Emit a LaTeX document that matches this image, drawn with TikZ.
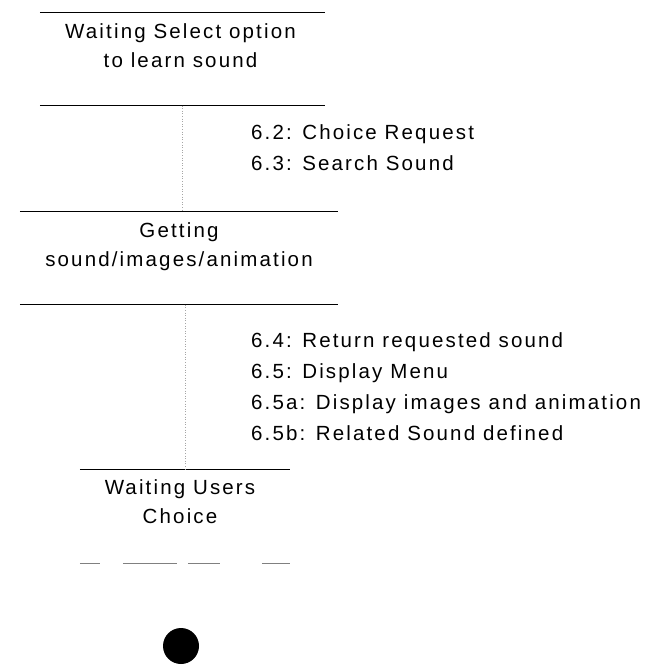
\documentclass[tikz,border=0pt]{standalone}
\usepackage{fontspec}
\newfontfamily\diagfont{Liberation Sans}[LetterSpace=10.5]
\usetikzlibrary{positioning}

\begin{document}
\begin{tikzpicture}[
  x=1pt, y=-1pt, font=\diagfont\fontsize{20.5}{29}\selectfont, node distance=12pt,
  bar/.style={line width=1.1pt},
  dashbar/.style={line width=0.6pt, gray, dash pattern=on 20pt off 23pt on 54pt off 11pt on 32pt off 42pt on 31pt off 10pt},
  frame/.style={minimum width=#1, minimum height=93pt, inner sep=0pt,
    append after command={(\tikzlastnode.north west) edge[bar] (\tikzlastnode.north east)}},
  solidbot/.style={append after command={(\tikzlastnode.south west) edge[bar] (\tikzlastnode.south east)}},
  dashbot/.style={append after command={(\tikzlastnode.south west) edge[dashbar] (\tikzlastnode.south east)}},
  txt/.style={align=center, inner sep=0pt},
  msg/.style={anchor=north west, align=left, inner sep=0pt, font=\diagfont\fontsize{20.5}{31}\selectfont},
  conn/.style={dotted, gray!70, line width=0.6pt},
  final/.style={circle, fill=black, minimum size=36pt, inner sep=0pt}]
  \useasboundingbox (0,0) rectangle (654,668);
  % states
  \node[frame=285pt, solidbot] (selBox) at (182.5,59) {};
  \node[txt, below=11pt of selBox.north, xshift=-2pt] (select) {Waiting Select option\\to learn sound};
  \node[frame=318pt, solidbot] (getBox) at (179,258) {};
  \node[txt, below=11pt of getBox.north] (getting) {Getting\\sound/images/animation};
  \node[frame=210pt, dashbot] (waitBox) at (185,516.5) {};
  \node[txt, below=10pt of waitBox.north, xshift=-5pt] (waiting) {Waiting Users\\Choice};
  \node[final] (final) at (181,646) {};
  % messages
  \node[msg] (msgA) at (251,124.5) {6.2: Choice Request\\6.3: Search Sound};
  \node[msg] (msgB) at (251,332.5) {6.4: Return requested sound\\6.5: Display Menu\\6.5a: Display images and animation\\6.5b: Related Sound defined};
  % transitions
  \draw[conn] (selBox.south) -- (selBox.south |- getBox.north);
  \draw[conn] (getBox.south -| waitBox.north) -- (waitBox.north);
\end{tikzpicture}
\end{document}
